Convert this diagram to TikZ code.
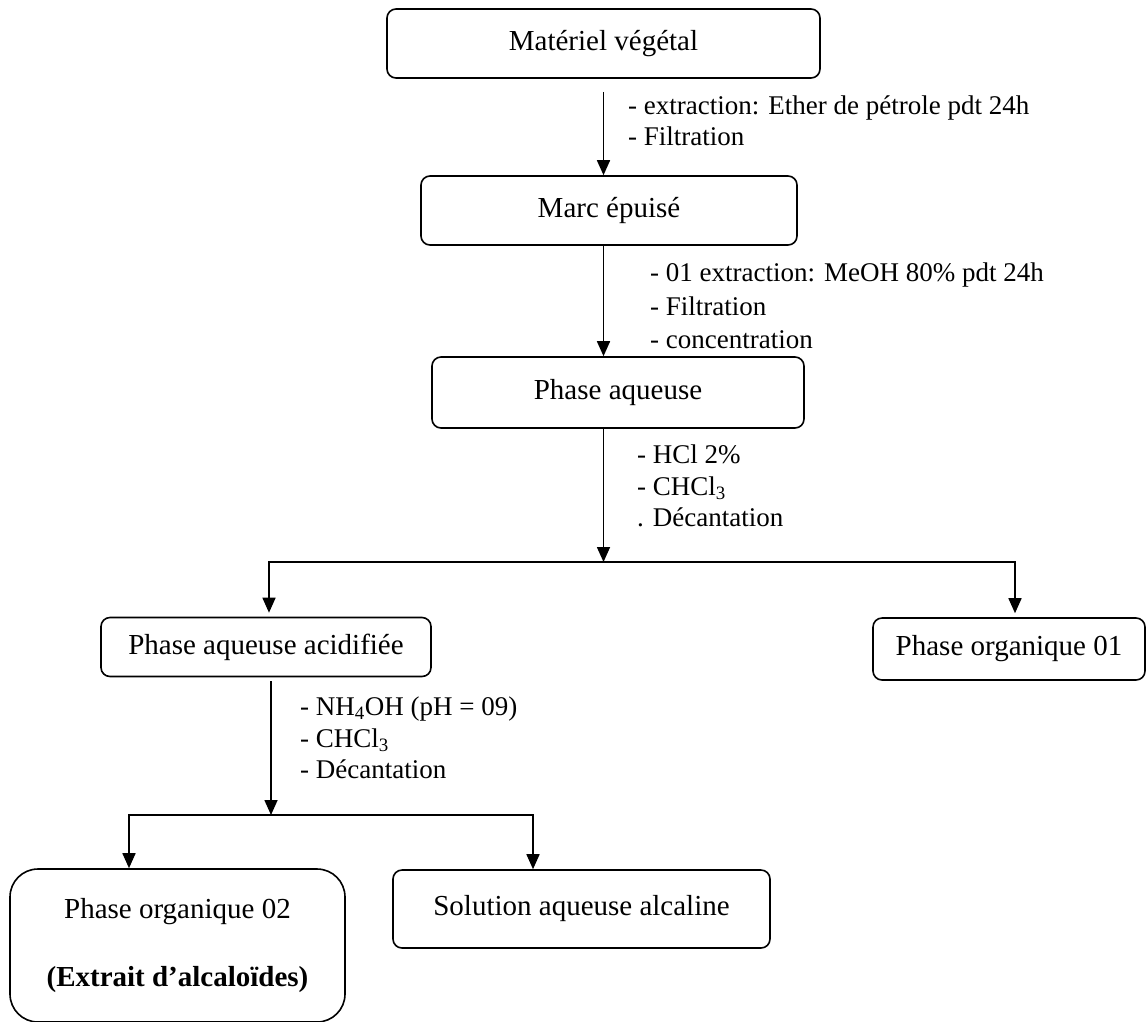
\documentclass[tikz,border=0pt]{standalone}
\usepackage{fontspec}
\setmainfont{Liberation Serif}
\usetikzlibrary{arrows.meta}

\tikzset{
	boite/.style={draw, line width=1.6pt, rounded corners=9pt, inner sep=0pt, font=\fontsize{29}{33}\selectfont},
	etape/.style={anchor=north west, inner sep=0pt, align=left, font=\fontsize{27}{31.5}\selectfont},
	fleche/.style={line width=1.6pt, -{Triangle[length=15pt,width=13pt]}},
	trait/.style={line width=1.6pt, line cap=rect}
}

\begin{document}
\begin{tikzpicture}[x=1pt,y=-1pt]
	\useasboundingbox (0,0) rectangle (1147,1021);
	%Materiel vegetal
		\node[boite, minimum width=433pt, minimum height=69pt] (mv) at (603.5,43.5) {Matériel végétal};
	%Marc epuise
		\node[boite, minimum width=376pt, minimum height=69pt] (me) at (609,210.5) {Marc épuisé};
	%Phase aqueuse
		\node[boite, minimum width=372pt, minimum height=71pt] (pa) at (618,392.5) {Phase aqueuse};
	%Phase aqueuse acidifiee
		\node[boite, minimum width=330pt, minimum height=59pt] (paa) at (266,647) {Phase aqueuse acidifiée};
	%Phase organique 01
		\node[boite, minimum width=272pt, minimum height=62pt] (po1) at (1009,649) {Phase organique 01};
	%Phase organique 02
		\node[boite, rounded corners=28pt, minimum width=335pt, minimum height=153pt, align=center] (po2) at (177.5,945.5)
			{Phase organique 02\\[35pt]\textbf{(Extrait d’alcaloïdes)}};
	%Solution aqueuse alcaline
		\node[boite, minimum width=377pt, minimum height=78pt] (sol) at (581.5,909) {Solution aqueuse alcaline};

	%Materiel->Marc
		\draw[fleche] ([yshift=-13pt]mv.south) -- (mv.south |- me.north);
		\node[etape, font=\fontsize{27}{30.5}\selectfont] (e1) at (628,96) {- extraction: Ether de pétrole pdt 24h\\- Filtration};
	%Marc->Phase aqueuse
		\draw[fleche] (me.south -| mv.south) -- (pa.north -| mv.south);
		\node[etape, font=\fontsize{27}{33.5}\selectfont] (e2) at (650,263) {- 01 extraction: MeOH 80\% pdt 24h\\- Filtration\\- concentration};
	%Phase aqueuse->partage
		\coordinate (div1) at (603.5,562);
		\coordinate (div1g) at (269,562);
		\coordinate (div1d) at (1015,562);
		\draw[fleche] (pa.south -| div1) -- (div1);
		\draw[trait] (div1g) -- (div1d);
		\draw[fleche, shorten >=4pt] (div1g) -- (div1g |- paa.north);
		\draw[fleche, shorten >=4pt] (div1d) -- (div1d |- po1.north);
		\node[etape] (e3) at (637,445) {- HCl 2\%\\- CHCl\textsubscript{3}\\. Décantation};
	%Phase aqueuse acidifiee->partage
		\coordinate (div2) at (271,815);
		\coordinate (div2g) at (129,815);
		\coordinate (div2d) at (533,815);
		\draw[fleche] ([yshift=-4pt]paa.south -| div2) -- (div2);
		\draw[trait] (div2g) -- (div2d);
		\draw[fleche] (div2g) -- (div2g |- po2.north);
		\draw[fleche] (div2d) -- (div2d |- sol.north);
		\node[etape] (e4) at (300,697) {- NH\textsubscript{4}OH (pH = 09)\\- CHCl\textsubscript{3}\\- Décantation};
\end{tikzpicture}
\end{document}
